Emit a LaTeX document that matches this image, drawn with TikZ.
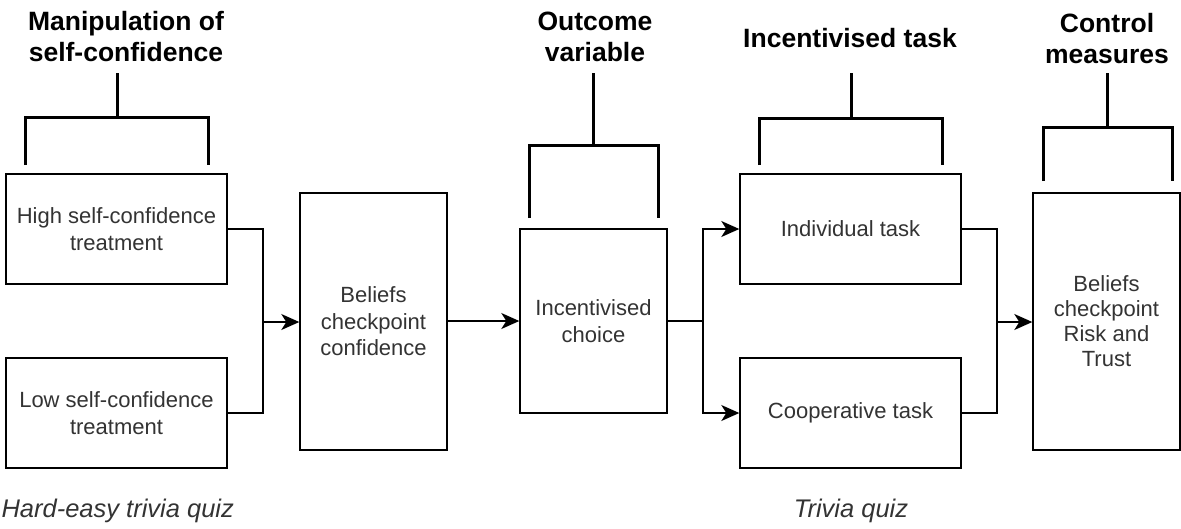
\documentclass[tikz,border=0pt]{standalone}
\usepackage{fontspec}
\setmainfont{Liberation Sans}
\usetikzlibrary{arrows.meta,calc}
\definecolor{txtgray}{HTML}{333333}
\tikzset{
  box/.style={draw=black, line width=1.4pt, fill=white, align=center, inner sep=2pt,
    text=txtgray, font=\fontsize{22}{26.5}\selectfont},
  title/.style={align=center, font=\fontsize{26.5}{31}\selectfont\bfseries, text=black},
  note/.style={font=\fontsize{25.5}{30}\selectfont\itshape, text=txtgray},
  conn/.style={line width=1.4pt, -{Stealth[length=18pt,width=16pt,inset=5pt]}},
  plainconn/.style={line width=1.4pt},
  bracket/.style={line width=3pt}
}
\begin{document}
\begin{tikzpicture}[x=1pt,y=-1pt]
\useasboundingbox (0,0) rectangle (1181,528);

% boxes
\node[box, minimum width=221pt, minimum height=110pt] (hi) at (116.5,229) {High self-confidence\\treatment};
\node[box, minimum width=221pt, minimum height=110pt] (lo) at (116.5,413) {Low self-confidence\\treatment};
\node[box, minimum width=147pt, minimum height=257pt] (bel) at (373.5,321.5) {Beliefs\\checkpoint\\confidence};
\node[box, minimum width=147pt, minimum height=184pt] (cho) at (593.5,321) {Incentivised\\choice};
\node[box, minimum width=221pt, minimum height=110pt] (ind) at (850.5,229) {Individual task};
\node[box, minimum width=221pt, minimum height=110pt] (coo) at (850.5,413) {Cooperative task};
\node[box, minimum width=147pt, minimum height=257pt, font=\fontsize{22}{25}\selectfont] (ctl) at (1106.5,321.5) {Beliefs\\checkpoint\\Risk and\\Trust};

% titles
\node[title] (t1) at (126,37) {Manipulation of\\self-confidence};
\node[title] (t2) at (595,37) {Outcome\\variable};
\node[title] (t3) at (850,38) {Incentivised task};
\node[title] (t4) at (1107,39) {Control\\measures};

% bottom notes
\node[note, anchor=west] (n1) at (-2,511) {Hard-easy trivia quiz};
\node[note] (n2) at (851,511) {Trivia quiz};

% junction coordinates
\coordinate (j1) at (263,322);
\coordinate (j2) at (703,321);
\coordinate (j3) at (997,322);

% connectors
\draw[plainconn] (hi.east) -| (j1);
\draw[plainconn] (lo.east) -| (j1);
\draw[conn] (j1) -- (bel.west |- j1);
\draw[conn] (bel.east |- cho.west) -- (cho.west);
\draw[plainconn] (cho.east) -- (j2);
\draw[conn] (j2) |- (ind.west);
\draw[conn] (j2) |- (coo.west);
\draw[plainconn] (ind.east) -| (j3);
\draw[plainconn] (coo.east) -| (j3);
\draw[conn] (j3) -- (ctl.west |- j3);

% brackets
\draw[bracket] (117,73) -- (117,117);
\draw[bracket] (25,165) -- (25,117) -- (208,117) -- (208,165);
\draw[bracket] (593,73) -- (593,145);
\draw[bracket] (529,218) -- (529,145) -- (658,145) -- (658,218);
\draw[bracket] (851,73) -- (851,118);
\draw[bracket] (759,165) -- (759,118) -- (942,118) -- (942,165);
\draw[bracket] (1107,73) -- (1107,127);
\draw[bracket] (1043,181) -- (1043,127) -- (1172,127) -- (1172,181);
\end{tikzpicture}
\end{document}
